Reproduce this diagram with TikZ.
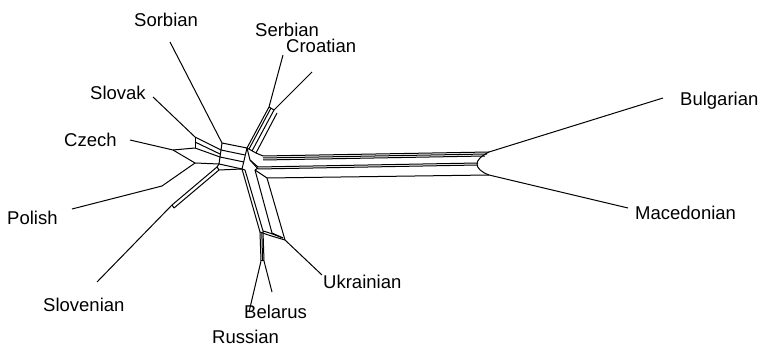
\documentclass[tikz,border=0pt]{standalone}
\usepackage{fontspec}
\setmainfont{Liberation Sans}
\begin{document}
\begin{tikzpicture}[x=1pt,y=-1pt,
  lbl/.style={anchor=base west,inner sep=0pt,font=\fontsize{18.5}{20}\selectfont},
  ed/.style={line width=1pt,line join=round}]
\useasboundingbox (0,0) rectangle (760,347);
% labels
\node[lbl] (sorbian) at (134,27) {Sorbian};
\node[lbl] (serbian) at (255,37) {Serbian};
\node[lbl] (croatian) at (286,53) {Croatian};
\node[lbl] (slovak) at (90,100) {Slovak};
\node[lbl] (czech) at (64,147) {Czech};
\node[lbl] (polish) at (7,225) {Polish};
\node[lbl] (slovenian) at (43,312) {Slovenian};
\node[lbl] (belarus) at (244,318) {Belarus};
\node[lbl] (russian) at (212,343) {Russian};
\node[lbl] (ukrainian) at (323,289) {Ukrainian};
\node[lbl] (bulgarian) at (680,106) {Bulgarian};
\node[lbl] (macedonian) at (635,220) {Macedonian};
% leaf coordinates
\coordinate (tSor) at (170,42);  \coordinate (eSor) at (222,143);
\coordinate (tSer) at (283,55);  \coordinate (eSer) at (269,107);
\coordinate (tCro) at (312,72);  \coordinate (eCro) at (274,110);
\coordinate (tSlk) at (153,97);  \coordinate (eSlk) at (195,137);
\coordinate (tCze) at (130,140); \coordinate (eCze) at (173,150);
\coordinate (tPol) at (72,209);  \coordinate (ePol) at (162,186);
\coordinate (tSln) at (97,282);  \coordinate (eSln) at (172,205);
\coordinate (tBul) at (663,98);  \coordinate (eBul) at (489,152);
\coordinate (tMac) at (628,208); \coordinate (eMac) at (489,175);
\coordinate (tUkr) at (322,275); \coordinate (eUkr) at (285,240);
\coordinate (tRus) at (249,312); \coordinate (eRus) at (261,261);
\coordinate (tBel) at (272,292); \coordinate (eBel) at (264,261);
% pendant edges
\draw[ed] (tSor)--(eSor);
\draw[ed] (tSer)--(eSer);
\draw[ed] (tCro)--(eCro);
\draw[ed] (tSlk)--(eSlk);
\draw[ed] (tCze)--(eCze);
\draw[ed] (tPol)--(ePol);
\draw[ed] (tSln)--(eSln);
\draw[ed] (tBul)--(eBul);
\draw[ed] (tMac)--(eMac);
\draw[ed] (tUkr)--(eUkr);
\draw[ed] (tRus)--(eRus);
\draw[ed] (tBel)--(eBel);
% central box
\coordinate (c1) at (222,143); \coordinate (c2) at (247,148);
\coordinate (c3) at (242,169); \coordinate (c4) at (219,164);
\draw[ed] (c1)--(c2)--(c3)--(c4)--cycle;
\draw[ed] (221,150)--(245,155);
\draw[ed] (220,157)--(244,162);
% Serbian / Croatian band
\draw[ed] (eSer)--(eCro);
\draw[ed] (eSer)--(c2);
\draw[ed] (271,108)--(249,149);
\draw[ed] (eCro)--(252,151);
\draw[ed] (277,113)--(256,153);
\draw[ed] (c2)--(256,153);
\draw[ed] (256,153)--(263,156);
\draw[ed] (c2)--(250,160)--(258,167);
% Slovak / Czech / Polish / Slovenian
\draw[ed] (eSlk)--(195,148);
\draw[ed] (eSlk)--(221,150);
\draw[ed] (195,142)--(220,154);
\draw[ed] (195,148)--(220,157);
\draw[ed] (eCze)--(195,148);
\draw[ed] (eCze)--(195,163);
\draw[ed] (ePol)--(195,163);
\draw[ed] (195,163)--(c4);
\draw[ed] (eSln)--(217,167);
\draw[ed] (174,208)--(219,170);
\draw[ed] (eSln)--(174,208);
\draw[ed] (217,167)--(219,170)--(c3);
\draw[ed] (c4)--(217,167);
% long band to Bulgarian / Macedonian
\draw[ed] (263,156)--(eBul);
\draw[ed] (263,158)--(487,154);
\draw[ed] (263,160)--(485,156);
\draw[ed] (258,167)--(478,163);
\draw[ed] (258,169)--(478,165);
\draw[ed] (267,178)--(eMac);
\draw[ed] (eBul) .. controls (481,156) and (477,160) .. (477,164) .. controls (477,168) and (481,172) .. (eMac);
\draw[ed] (250,160)--(258,169);
% lower branch
\draw[ed] (c3)--(260,232);
\draw[ed] (245,170)--(263,231);
\draw[ed] (255,170)--(272,233);
\draw[ed] (267,178)--(eUkr);
\draw[ed] (255,170)--(258,168);
\draw[ed] (c3)--(245,170);
\draw[ed] (255,170)--(267,178);
\draw[ed] (260,232) .. controls (268,235) .. (eUkr);
\draw[ed] (263,231) .. controls (270,233) .. (283,238);
\draw[ed] (272,233)--(283,238);
\draw[ed] (260,232)--(eRus);
\draw[ed] (263,231)--(eBel);
\draw[ed] (261.8,232)--(262.6,261);
\draw[ed] (eRus)--(eBel);
\end{tikzpicture}
\end{document}
